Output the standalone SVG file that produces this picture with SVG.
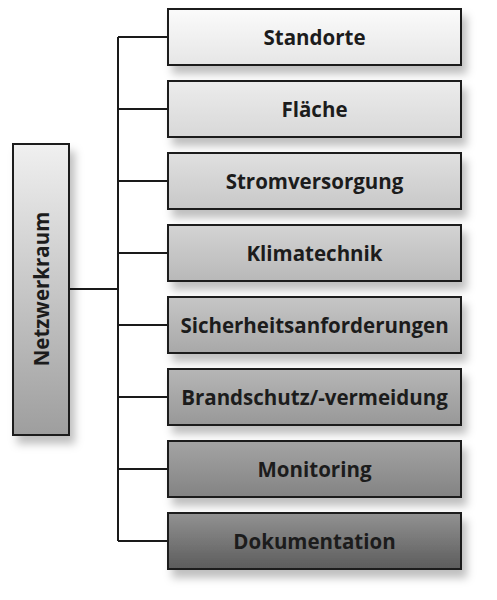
<svg xmlns="http://www.w3.org/2000/svg" width="497" height="600" viewBox="0 0 497 600">
<defs>
<filter id="sh" x="-20%" y="-20%" width="150%" height="160%">
<feDropShadow dx="5" dy="8" stdDeviation="4.5" flood-color="#000" flood-opacity="0.25"/>
</filter>
<linearGradient id="g0" x1="0" y1="0" x2="0" y2="1"><stop offset="0" stop-color="#f0f0f0"/><stop offset="1" stop-color="#9e9e9e"/></linearGradient>
<linearGradient id="g1" x1="0" y1="0" x2="0" y2="1"><stop offset="0" stop-color="#fbfbfb"/><stop offset="1" stop-color="#e6e6e6"/></linearGradient>
<linearGradient id="g2" x1="0" y1="0" x2="0" y2="1"><stop offset="0" stop-color="#ececec"/><stop offset="1" stop-color="#d8d8d8"/></linearGradient>
<linearGradient id="g3" x1="0" y1="0" x2="0" y2="1"><stop offset="0" stop-color="#e0e0e0"/><stop offset="1" stop-color="#c8c8c8"/></linearGradient>
<linearGradient id="g4" x1="0" y1="0" x2="0" y2="1"><stop offset="0" stop-color="#d4d4d4"/><stop offset="1" stop-color="#b8b8b8"/></linearGradient>
<linearGradient id="g5" x1="0" y1="0" x2="0" y2="1"><stop offset="0" stop-color="#c6c6c6"/><stop offset="1" stop-color="#a8a8a8"/></linearGradient>
<linearGradient id="g6" x1="0" y1="0" x2="0" y2="1"><stop offset="0" stop-color="#b6b6b6"/><stop offset="1" stop-color="#989898"/></linearGradient>
<linearGradient id="g7" x1="0" y1="0" x2="0" y2="1"><stop offset="0" stop-color="#a4a4a4"/><stop offset="1" stop-color="#838383"/></linearGradient>
<linearGradient id="g8" x1="0" y1="0" x2="0" y2="1"><stop offset="0" stop-color="#929292"/><stop offset="1" stop-color="#5c5c5c"/></linearGradient>
</defs>
<style>
.box{stroke:#1a1a1a;stroke-width:2;filter:url(#sh)}
.lbl{font-family:"Open Sans","DejaVu Sans",sans-serif;font-weight:bold;font-size:20.5px;fill:#1c1c1c;text-anchor:middle}
.con{stroke:#1a1a1a;stroke-width:2;fill:none}
</style>
<rect width="497" height="600" fill="#fff"/>
<g id="connectors">
<path class="con" d="M69 289H118M118 37V541M118 37H168M118 109H168M118 181H168M118 253H168M118 325H168M118 397H168M118 469H168M118 541H168"/>
</g>
<g id="netzwerkraum">
<rect class="box" x="13" y="144" width="56" height="291" fill="url(#g0)"/>
<text class="lbl" transform="translate(49 289) rotate(-90)">Netzwerkraum</text>
</g>
<g id="standorte">
<rect class="box" x="168" y="9" width="293" height="56" fill="url(#g1)"/>
<text class="lbl" x="314.5" y="44.8">Standorte</text>
</g>
<g id="flaeche">
<rect class="box" x="168" y="81" width="293" height="56" fill="url(#g2)"/>
<text class="lbl" x="314.5" y="116.8">Fläche</text>
</g>
<g id="stromversorgung">
<rect class="box" x="168" y="153" width="293" height="56" fill="url(#g3)"/>
<text class="lbl" x="314.5" y="188.8">Stromversorgung</text>
</g>
<g id="klimatechnik">
<rect class="box" x="168" y="225" width="293" height="56" fill="url(#g4)"/>
<text class="lbl" x="314.5" y="260.8">Klimatechnik</text>
</g>
<g id="sicherheitsanforderungen">
<rect class="box" x="168" y="297" width="293" height="56" fill="url(#g5)"/>
<text class="lbl" x="314.5" y="332.8">Sicherheitsanforderungen</text>
</g>
<g id="brandschutz">
<rect class="box" x="168" y="369" width="293" height="56" fill="url(#g6)"/>
<text class="lbl" x="314.5" y="404.8">Brandschutz/-vermeidung</text>
</g>
<g id="monitoring">
<rect class="box" x="168" y="441" width="293" height="56" fill="url(#g7)"/>
<text class="lbl" x="314.5" y="476.8">Monitoring</text>
</g>
<g id="dokumentation">
<rect class="box" x="168" y="513" width="293" height="56" fill="url(#g8)"/>
<text class="lbl" x="314.5" y="548.8">Dokumentation</text>
</g>
</svg>
